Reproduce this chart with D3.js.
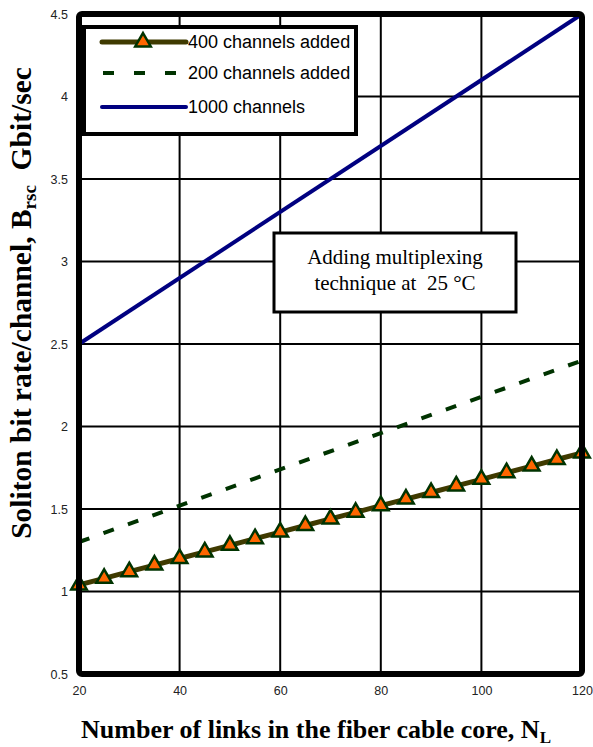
<!DOCTYPE html>
<html>
<head>
<meta charset="utf-8">
<script src="https://cdn.jsdelivr.net/npm/d3@7"></script>
<style>
  body { margin: 0; background: #fff; }
  svg { display: block; }
</style>
</head>
<body>
<div id="chart"></div>
<script>
// data
const links400 = [20, 25, 30, 35, 40, 45, 50, 55, 60, 65, 70, 75, 80, 85, 90, 95, 100, 105, 110, 115, 120]
const rate400 = [1.04, 1.08, 1.12, 1.16, 1.20, 1.24, 1.28, 1.32, 1.36, 1.40, 1.44, 1.48, 1.52, 1.56, 1.60, 1.64, 1.68, 1.72, 1.76, 1.80, 1.84]
const links200 = [20, 120]
const rate200 = [1.3, 2.4]
const links1000 = [20, 120]
const rate1000 = [2.5, 4.5]
const xTicks = [20, 40, 60, 80, 100, 120]
const yTicks = [0.5, 1, 1.5, 2, 2.5, 3, 3.5, 4, 4.5]
const legendLabels = ['400 channels added', '200 channels added', '1000 channels']

const width = 593
const height = 747
const margin = { top: 14, left: 79, right: 11, bottom: 73 }

const svg = d3
  .select('#chart')
  .append('svg')
  .attr('width', width)
  .attr('height', height)

const xPositionScale = d3.scaleLinear().domain([20, 120]).range([margin.left, width - margin.right])
const yPositionScale = d3.scaleLinear().domain([0.5, 4.5]).range([height - margin.bottom, margin.top])

const x0 = margin.left
const x1 = width - margin.right
const y0 = margin.top
const y1 = height - margin.bottom

// grid
const grid = svg.append('g').attr('class', 'grid')
grid
  .selectAll('.vgrid')
  .data(xTicks.slice(1, -1))
  .enter()
  .append('line')
  .attr('x1', d => xPositionScale(d))
  .attr('x2', d => xPositionScale(d))
  .attr('y1', y0)
  .attr('y2', y1)
  .attr('stroke', '#000')
  .attr('stroke-width', 2)
grid
  .selectAll('.hgrid')
  .data(yTicks.slice(1, -1))
  .enter()
  .append('line')
  .attr('x1', x0)
  .attr('x2', x1)
  .attr('y1', d => yPositionScale(d))
  .attr('y2', d => yPositionScale(d))
  .attr('stroke', '#000')
  .attr('stroke-width', 2)

// tick labels via axes
const yAxis = d3.axisLeft(yPositionScale).tickValues(yTicks).tickSize(0).tickPadding(11)
  .tickFormat(d3.format('~g'))
svg
  .append('g')
  .attr('class', 'axis y-axis')
  .attr('transform', `translate(${x0},0)`)
  .call(yAxis)
  .call(g => g.select('.domain').remove())

const xAxis = d3.axisBottom(xPositionScale).tickValues(xTicks).tickSize(0).tickPadding(12)
svg
  .append('g')
  .attr('class', 'axis x-axis')
  .attr('transform', `translate(0,${y1})`)
  .call(xAxis)
  .call(g => g.select('.domain').remove())

svg.selectAll('.axis text')
  .attr('font-family', 'Liberation Sans, Arial, sans-serif')
  .attr('font-size', 12.5)
  .attr('fill', '#222')

// annotation box
svg
  .append('rect')
  .attr('x', 274)
  .attr('y', 233)
  .attr('width', 242)
  .attr('height', 79)
  .attr('fill', '#fff')
  .attr('stroke', '#000')
  .attr('stroke-width', 3)
const note = svg
  .append('text')
  .attr('font-family', 'Liberation Serif, Times New Roman, serif')
  .attr('font-size', 21)
  .attr('text-anchor', 'middle')
  .style('white-space', 'pre')
note.append('tspan').attr('x', 395).attr('y', 264).text('Adding multiplexing')
note.append('tspan').attr('x', 395).attr('y', 290).text('technique at  25 °C')

// series
const line = d3.line().x(d => xPositionScale(d[0])).y(d => yPositionScale(d[1]))

svg
  .append('path')
  .datum(d3.zip(links1000, rate1000))
  .attr('d', line)
  .attr('fill', 'none')
  .attr('stroke', '#000080')
  .attr('stroke-width', 4)

svg
  .append('path')
  .datum(d3.zip(links200, rate200))
  .attr('d', line)
  .attr('fill', 'none')
  .attr('stroke', '#003300')
  .attr('stroke-width', 4)
  .attr('stroke-dasharray', '11,15')

svg
  .append('path')
  .datum(d3.zip(links400, rate400))
  .attr('d', line)
  .attr('fill', 'none')
  .attr('stroke', '#3f3a00')
  .attr('stroke-width', 5)

const triangle = d3.symbol(d3.symbolTriangle, 105)
svg
  .selectAll('.marker')
  .data(d3.zip(links400, rate400))
  .enter()
  .append('path')
  .attr('class', 'marker')
  .attr('d', triangle)
  .attr('transform', d => `translate(${xPositionScale(d[0])},${yPositionScale(d[1])})`)
  .attr('fill', '#ff6600')
  .attr('stroke', '#003300')
  .attr('stroke-width', 2.5)

// frame
svg
  .append('rect')
  .attr('x', x0)
  .attr('y', y0)
  .attr('width', x1 - x0)
  .attr('height', y1 - y0)
  .attr('rx', 3)
  .attr('fill', 'none')
  .attr('stroke', '#000')
  .attr('stroke-width', 6)

// legend
const legend = svg.append('g').attr('class', 'legend')
legend
  .append('rect')
  .attr('x', 84)
  .attr('y', 27)
  .attr('width', 272)
  .attr('height', 107)
  .attr('fill', '#fff')
  .attr('stroke', '#000')
  .attr('stroke-width', 4)

const legendY = [42, 73, 107]
const legendStyles = [
  { stroke: '#3f3a00', width: 5, dash: null },
  { stroke: '#003300', width: 4, dash: '11,20' },
  { stroke: '#000080', width: 4, dash: null }
]
legendLabels.forEach((label, i) => {
  legend
    .append('line')
    .attr('x1', i === 1 ? 103 : 102)
    .attr('x2', 186)
    .attr('y1', legendY[i])
    .attr('y2', legendY[i])
    .attr('stroke', legendStyles[i].stroke)
    .attr('stroke-width', legendStyles[i].width)
    .attr('stroke-linecap', i === 1 ? 'butt' : 'round')
    .attr('stroke-dasharray', legendStyles[i].dash)
  legend
    .append('text')
    .attr('x', 188)
    .attr('y', legendY[i] + 6)
    .attr('font-family', 'Liberation Sans, Arial, sans-serif')
    .attr('font-size', 18)
    .attr('fill', '#000')
    .text(label)
})
legend
  .append('path')
  .attr('d', triangle)
  .attr('transform', `translate(143,${legendY[0]})`)
  .attr('fill', '#ff6600')
  .attr('stroke', '#003300')
  .attr('stroke-width', 2.5)

// axis titles
const xTitle = svg
  .append('text')
  .attr('x', 316)
  .attr('y', 738)
  .attr('text-anchor', 'middle')
  .attr('font-family', 'Liberation Serif, Times New Roman, serif')
  .attr('font-weight', 'bold')
  .attr('font-size', 26)
xTitle.append('tspan').text('Number of links in the fiber cable core, N')
xTitle.append('tspan').attr('font-size', 17).attr('dy', 5).text('L')

const yTitle = svg
  .append('text')
  .attr('transform', 'translate(31,303) rotate(-90)')
  .attr('text-anchor', 'middle')
  .attr('font-family', 'Liberation Serif, Times New Roman, serif')
  .attr('font-weight', 'bold')
  .attr('font-size', 29.5)
  .style('white-space', 'pre')
yTitle.append('tspan').text('Soliton bit rate/channel, B')
yTitle.append('tspan').attr('font-size', 19).attr('dy', 5).text('rsc')
yTitle.append('tspan').attr('dy', -5).text('  Gbit/sec')
</script>
</body>
</html>
